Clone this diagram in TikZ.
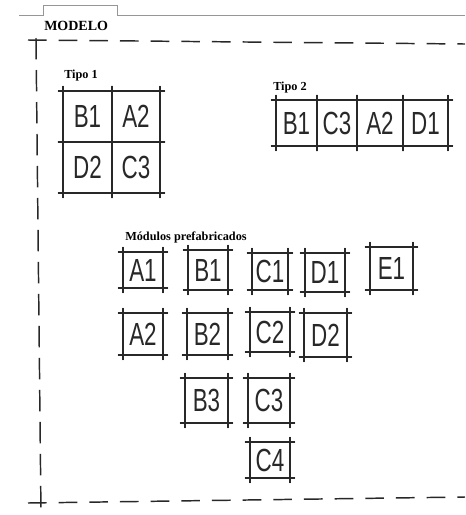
\documentclass[tikz,border=0pt]{standalone}
\usepackage{fontspec}
\setmainfont{Liberation Serif}
\newfontfamily\hand[FakeStretch=0.7]{Liberation Sans}
\definecolor{pencil}{RGB}{40,40,40}
\definecolor{tabgray}{RGB}{150,150,150}
\newcommand\skb[1]{%
  \draw[sk] (#1.north west) -- (#1.north east);
  \draw[sk] (#1.south west) -- (#1.south east);
  \draw[sk] (#1.north west) -- (#1.south west);
  \draw[sk] (#1.north east) -- (#1.south east);}
\begin{document}
\begin{tikzpicture}[x=0.75pt,y=-0.75pt,
  sk/.style={draw=pencil,line width=0.85pt,line cap=round,shorten <=-3.5pt,shorten >=-3.5pt},
  cell/.style 2 args={inner sep=0pt,outer sep=0pt,minimum width=#1*0.75pt,minimum height=#2*0.75pt,
     font=\hand\fontsize{24}{24}\selectfont,text=pencil},
  lbl/.style={font=\bfseries\fontsize{9.2}{9.2}\selectfont,anchor=west,inner sep=0pt},
  border/.style={draw=pencil,line width=1.1pt,dash pattern=on 14pt off 9pt}]
\useasboundingbox (0,0) rectangle (465,515);
\fill[white] (0,0) rectangle (465,515);
% tab header
\draw[tabgray,line width=0.5pt] (19,15) -- (43,15) -- (43,5) -- (117,5) -- (117,15) -- (465,15);
\node[lbl,font=\bfseries\fontsize{10.5}{10.5}\selectfont] (title) at (44,25.5) {MODELO};
% dashed frame
\coordinate (tl) at (28,40);
\coordinate (tr) at (465,44);
\coordinate (lt) at (36,38);
\coordinate (lb) at (41,514);
\coordinate (bl) at (28,503);
\coordinate (br) at (465,497);
\draw[border] (tl) -- (tr);
\draw[border,dash pattern=on 16pt off 8pt] (lt) -- (lb);
\draw[border] (bl) -- (br);
% Tipo 1
\node[lbl] (t1) at (64,76) {Tipo 1};
\node[cell={49}{51}] (t1b1) at (87.5,116.5) {B1};
\node[cell={48}{51}] (t1a2) at (136,116.5) {A2};
\node[cell={49}{51}] (t1d2) at (87.5,167.5) {D2};
\node[cell={48}{51}] (t1c3) at (136,167.5) {C3};
\skb{t1b1}\skb{t1a2}\skb{t1d2}\skb{t1c3}
% Tipo 2
\node[lbl] (t2) at (273,88) {Tipo 2};
\node[cell={41}{46}] (t2b1) at (296.5,123) {B1};
\node[cell={40}{46}] (t2c3) at (337,123) {C3};
\node[cell={46}{46}] (t2a2) at (380,123) {A2};
\node[cell={45}{46}] (t2d1) at (425.5,123) {D1};
\skb{t2b1}\skb{t2c3}\skb{t2a2}\skb{t2d1}
% Modulos prefabricados
\node[lbl] (mp) at (125,237) {Módulos prefabricados};
\node[cell={40}{36}] (a1) at (143,270) {A1};
\node[cell={40}{40}] (b1) at (208,270) {B1};
\node[cell={36}{37}] (c1) at (270,271.5) {C1};
\node[cell={40}{39}] (d1) at (325,272.5) {D1};
\node[cell={43}{43}] (e1) at (391.5,268.5) {E1};
\node[cell={40}{42}] (a2) at (143,334) {A2};
\node[cell={41}{42}] (b2) at (207.5,334) {B2};
\node[cell={40}{40}] (c2) at (270,332) {C2};
\node[cell={43}{44}] (d2) at (325.5,335) {D2};
\node[cell={43}{45}] (b3) at (206.5,400.5) {B3};
\node[cell={42}{45}] (c3) at (269,400.5) {C3};
\node[cell={40}{36}] (c4) at (270,460) {C4};
\skb{a1}\skb{b1}\skb{c1}\skb{d1}\skb{e1}
\skb{a2}\skb{b2}\skb{c2}\skb{d2}
\skb{b3}\skb{c3}\skb{c4}
\end{tikzpicture}
\end{document}
